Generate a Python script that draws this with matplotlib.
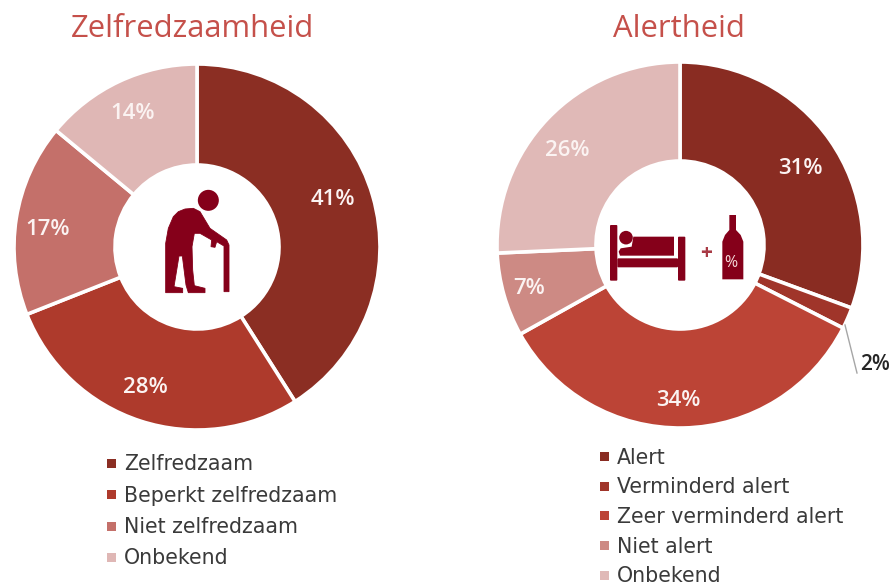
import numpy as np
from matplotlib import pyplot as plt
from matplotlib.patches import Circle, FancyBboxPatch, Polygon, Rectangle

plt.rcParams['font.family'] = ['Open Sans', 'DejaVu Sans']

W, H = 896, 585

# Data
left_title = 'Zelfredzaamheid'
left_cats = ['Zelfredzaam', 'Beperkt zelfredzaam', 'Niet zelfredzaam', 'Onbekend']
left_vals = [41, 28, 17, 14]
left_labels = ['41%', '28%', '17%', '14%']
left_cols = ['#8B2E23', '#AE3A2C', '#C4706A', '#DFB7B5']

right_title = 'Alertheid'
right_cats = ['Alert', 'Verminderd alert', 'Zeer verminderd alert', 'Niet alert', 'Onbekend']
right_vals = [30.6, 1.9, 34.4, 7.4, 25.7]
right_labels = ['31%', '2%', '34%', '7%', '26%']
right_cols = ['#892C22', '#A0352A', '#BC4436', '#CD8A84', '#E0B9B7']

# label nudges in pixels, the original labels are not quite centred in the ring
left_nudge = [(-5, -7), (-6, 1), (-5, 5), (-2, -1)]
right_nudge = [(0, 7), (0, 0), (-4, 9), (-10, 4), (-7, 7)]

title_col = '#C5504A'
text_col = '#3A3A3A'
icon_col = '#85001A'

fig = plt.figure(figsize=(W / 100, H / 100), dpi=100)

# Overlay in pixel coordinates for titles, legends and icons
over = fig.add_axes([0, 0, 1, 1], zorder=5)
over.set_xlim(0, W)
over.set_ylim(H, 0)
over.axis('off')


def donut(cx, cy, radius, inner, vals, labels, cols, nudge):
    pad = 1.05
    size = 2 * radius * pad
    ax = fig.add_axes([(cx - size / 2) / W, 1 - (cy + size / 2) / H, size / W, size / H])
    wedges, _ = ax.pie(vals, colors=cols, startangle=90, counterclock=False, radius=1,
                       wedgeprops=dict(width=1 - inner / radius, edgecolor='white', linewidth=2.6))
    ax.set_xlim(-pad, pad)
    ax.set_ylim(-pad, pad)
    for w, lab, (dx, dy) in zip(wedges, labels, nudge):
        if lab == '2%':
            continue
        a = np.radians((w.theta1 + w.theta2) / 2)
        ax.annotate(lab, (0.8 * np.cos(a), 0.8 * np.sin(a)), xytext=(dx * 0.72, -dy * 0.72),
                    textcoords='offset points', color='#FBF3F2', fontsize=16,
                    fontweight='semibold', ha='center', va='center')


def legend(x, y0, step, cats, cols):
    for i, (c, col) in enumerate(zip(cats, cols)):
        y = y0 + i * step
        over.add_patch(Rectangle((x, y - 4.5), 9, 9, color=col, lw=0))
        over.text(x + 17, y + 1, c, color=text_col, fontsize=14.8, family='DejaVu Sans',
                  ha='left', va='center')


donut(197, 247, 183, 82, left_vals, left_labels, left_cols, left_nudge)
donut(680, 245, 183, 84, right_vals, right_labels, right_cols, right_nudge)

over.text(193, 29, left_title, color=title_col, fontsize=22.3, ha='center', va='center')
over.text(679, 29, right_title, color=title_col, fontsize=22.3, ha='center', va='center')

legend(107, 463, 31.5, left_cats, left_cols)
legend(600, 456.5, 29.7, right_cats, right_cols)

# Leader line and outside label for the 2% slice
over.plot([845, 857], [325, 373], color='#A6A6A6', lw=1)
over.text(860, 365, '2%', color='#262626', fontsize=15, fontweight='semibold', ha='left', va='center')


def px(points, ox, oy):
    # outline points are measured on a 3x enlargement
    return [(ox + x / 3, oy + y / 3) for x, y in points]


# Old person with cane
person = [(255, 117), (280, 115), (300, 125), (315, 150), (330, 175), (380, 210), (387, 225),
          (387, 365), (372, 365), (372, 228), (350, 215), (345, 232), (333, 230), (335, 210),
          (300, 190), (283, 190), (276, 230), (278, 300), (283, 347), (315, 355), (315, 368),
          (265, 368), (258, 345), (247, 258), (237, 258), (222, 350), (248, 355), (248, 368),
          (197, 368), (197, 220), (205, 175), (220, 140), (235, 125)]
over.add_patch(Polygon(px(person, 100, 170), closed=True, color=icon_col, lw=0.6, ec=icon_col))
over.add_patch(Circle((100 + 325 / 3, 170 + 91 / 3), 10.5, color=icon_col, lw=0))

# Bed with sleeper
ox, oy = 590, 190
for x0, y0, x1, y1 in [(60, 105, 82, 272), (264, 140, 286, 272), (82, 205, 264, 232)]:
    over.add_patch(FancyBboxPatch((ox + x0 / 3 + 1, oy + y0 / 3 + 1), (x1 - x0) / 3 - 2, (y1 - y0) / 3 - 2,
                                  boxstyle='round,pad=1', color=icon_col, lw=0))
over.add_patch(Circle((ox + 108 / 3, oy + 143 / 3), 6.8, color=icon_col, lw=0))
sleeper = [(130, 140), (252, 140), (252, 197), (90, 197), (86, 185), (92, 175), (125, 170)]
over.add_patch(Polygon(px(sleeper, ox, oy), closed=True, color=icon_col, lw=0))

# Plus sign and bottle
over.text(ox + 347 / 3, oy + 190 / 3, '+', color='#A83A45', fontsize=15, fontweight='bold',
          ha='center', va='center')
bottle = [(418, 75), (438, 75), (438, 120), (452, 135), (460, 155), (460, 268), (397, 268),
          (397, 155), (405, 135), (418, 120)]
over.add_patch(Polygon(px(bottle, ox, oy), closed=True, color=icon_col, lw=0))
over.text(ox + 422 / 3, oy + 220 / 3, '%', color='#F4DADA', fontsize=11.5, ha='center', va='center')

plt.savefig('out.png', dpi=100)
